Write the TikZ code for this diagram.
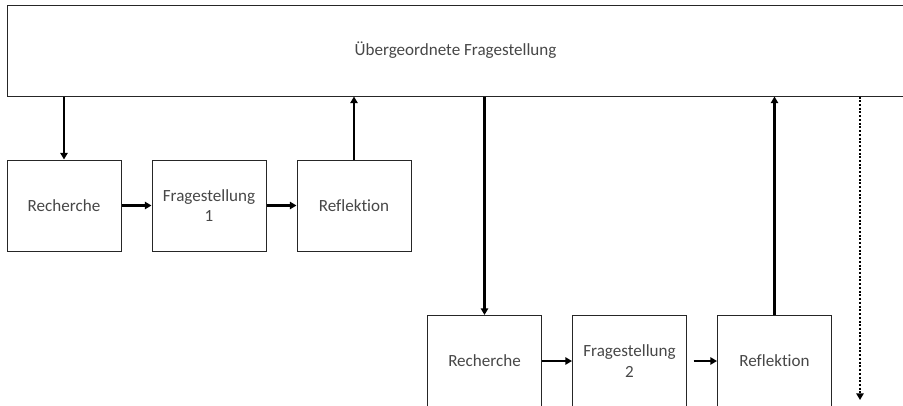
\documentclass[tikz,border=0pt]{standalone}
\usepackage{fontspec}
\setmainfont[Ligatures={NoCommon}]{Carlito}
\usetikzlibrary{arrows.meta}
\tikzset{
  box/.style={draw=black!85, line width=0.75pt, minimum width=85.5pt, minimum height=68.25pt,
    inner sep=0pt, align=center, text=black!72, font=\fontsize{12.8}{15.5}\selectfont},
  arr/.style={line width=1.7pt, -{Triangle[length=5pt,width=5.5pt]}},
  darr/.style={line width=1.7pt, dash pattern=on 1.5pt off 1.3pt, -{Triangle[length=5pt,width=5.5pt]}}
}
\begin{document}
\begin{tikzpicture}[x=0.75pt,y=-0.75pt]
\useasboundingbox (0,0) rectangle (903,405);
\clip (0,0) rectangle (903,405);
\node[box, minimum width=672.75pt] (top) at (455.5,50.5) {Übergeordnete Fragestellung};
\node[box] (rec1) at (64,205.5) {Recherche};
\node[box] (fr1) at (209,205.5) {Fragestellung\\1};
\node[box] (ref1) at (354,205.5) {Reflektion};
\node[box] (rec2) at (484.5,361) {Recherche};
\node[box] (fr2) at (629.5,361) {Fragestellung\\2};
\node[box] (ref2) at (774.5,361) {Reflektion};
\coordinate (cont) at (860,400);
\draw[arr] (top.south -| rec1) -- (rec1.north);
\draw[arr] (ref1.north) -- (ref1.north |- top.south);
\draw[arr] (rec1.east) -- (fr1.west);
\draw[arr] (fr1.east) -- (ref1.west);
\draw[arr] (top.south -| rec2) -- (rec2.north);
\draw[arr] (ref2.north) -- (ref2.north |- top.south);
\draw[arr] (rec2.east) -- (fr2.west);
\draw[arr, shorten <=5pt] (fr2.east) -- (ref2.west);
\draw[darr] (top.south -| cont) -- (cont);
\end{tikzpicture}
\end{document}
